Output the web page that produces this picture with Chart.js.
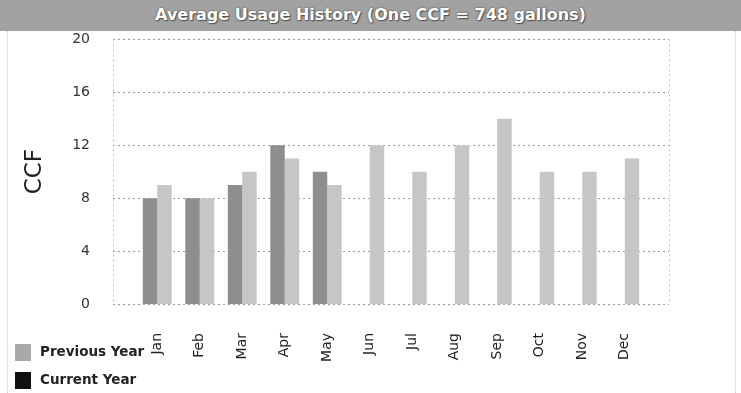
<!DOCTYPE html>
<html>
<head>
<meta charset="utf-8">
<title>Average Usage History</title>
<script src="https://cdn.jsdelivr.net/npm/chart.js@4/dist/chart.umd.min.js"></script>
<style>
    body { margin: 0; background: #fff; }
    #wrap { position: relative; width: 741px; height: 393px; overflow: hidden; }
    #titleBar {
        position: absolute; left: 0; top: 0; width: 741px; height: 31px;
        background: #a2a2a2;
        color: #fff; font: bold 16px "DejaVu Sans", sans-serif;
        text-align: center; line-height: 30px;
        text-shadow: 0 0 2px #444, 1px 1px 1px #555;
    }
    #usageChart { position: absolute; left: 0; top: 31px; }
    #legend {
        position: absolute; left: 15px; top: 342px;
        font: bold 13.5px "DejaVu Sans", sans-serif; color: #222;
    }
    #legend div { height: 18px; line-height: 18px; margin-bottom: 10px; white-space: nowrap; }
    #legend span.box { display: inline-block; width: 16px; height: 17px; vertical-align: middle; margin-right: 9px; }
    .frame { position: absolute; top: 31px; bottom: 0; border-left: 1px dotted #ccc; }
</style>
</head>
<body>
<div id="wrap">
    <div id="titleBar">Average Usage History (One CCF = 748 gallons)</div>
    <div class="frame" style="left:7px"></div>
    <div class="frame" style="left:735px"></div>
    <canvas id="usageChart" width="741" height="362"></canvas>
    <div id="legend">
        <div><span class="box" style="background:#a9a9a9"></span>Previous Year</div>
        <div><span class="box" style="background:#111"></span>Current Year</div>
    </div>
</div>
<script>
    // Months and usage in CCF
    const months = ['Jan', 'Feb', 'Mar', 'Apr', 'May', 'Jun', 'Jul', 'Aug', 'Sep', 'Oct', 'Nov', 'Dec'];
    const currentYear = [8, 8, 9, 12, 10, null, null, null, null, null, null, null];
    const previousYear = [9, 8, 10, 11, 9, 12, 10, 12, 14, 10, 10, 11];
    const yMin = 0;
    const yMax = 20;
    const yStep = 4;

    // dotted grid that runs a little past the bars on both sides
    const dottedGrid = {
        id: 'dottedGrid',
        beforeDatasetsDraw(chart) {
            const ctx = chart.ctx;
            const area = chart.chartArea;
            const y = chart.scales.y;
            const pad = 23;
            ctx.save();
            ctx.strokeStyle = '#9a9a9a';
            ctx.lineWidth = 1;
            ctx.setLineDash([2, 3]);
            y.ticks.forEach(t => {
                const py = Math.round(y.getPixelForValue(t.value)) + 0.5;
                ctx.beginPath();
                ctx.moveTo(area.left - pad, py);
                ctx.lineTo(area.right + pad, py);
                ctx.stroke();
            });
            ctx.strokeStyle = '#c4c4c4';
            [area.left - pad, area.right + pad].forEach(x => {
                ctx.beginPath();
                ctx.moveTo(Math.round(x) + 0.5, area.top);
                ctx.lineTo(Math.round(x) + 0.5, area.bottom);
                ctx.stroke();
            });
            ctx.restore();
        }
    };

    const ctx = document.getElementById('usageChart').getContext('2d');
    new Chart(ctx, {
        type: 'bar',
        data: {
            labels: months,
            datasets: [{
                label: 'Current Year',
                data: currentYear,
                backgroundColor: '#8e8e8e'
            }, {
                label: 'Previous Year',
                data: previousYear,
                backgroundColor: '#c6c6c6'
            }]
        },
        options: {
            responsive: false,
            animation: false,
            datasets: {
                bar: { categoryPercentage: 0.68, barPercentage: 1.0 }
            },
            layout: { padding: { top: 7, right: 95, left: 0, bottom: 0 } },
            plugins: {
                legend: { display: false },
                tooltip: { enabled: false }
            },
            scales: {
                x: {
                    // tick marks hidden, tickLength only pushes the labels down
                    grid: { display: false, drawTicks: true, tickLength: 29 },
                    border: { display: false },
                    ticks: {
                        minRotation: 90, maxRotation: 90,
                        padding: 0,
                        color: '#222',
                        font: { family: 'DejaVu Sans', size: 14 }
                    },
                    afterFit(scale) { scale.height = 89; }
                },
                y: {
                    min: yMin,
                    max: yMax,
                    grid: { display: false, drawTicks: true, tickLength: 46 },
                    border: { display: false },
                    ticks: {
                        stepSize: yStep,
                        padding: 0,
                        color: '#333',
                        font: { family: 'DejaVu Sans', size: 14 }
                    },
                    title: {
                        display: true,
                        text: 'CCF',
                        color: '#222',
                        padding: { top: 21, bottom: 0 },
                        font: { family: 'DejaVu Sans', size: 23 }
                    },
                    afterFit(scale) { scale.width = 136; }
                }
            }
        },
        plugins: [dottedGrid]
    });
</script>
</body>
</html>
